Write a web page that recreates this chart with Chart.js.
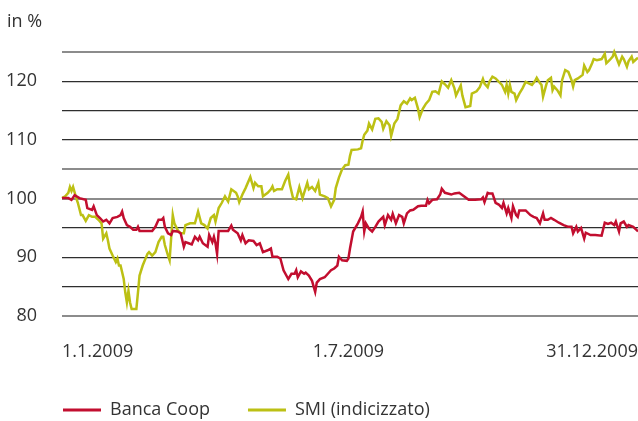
<!DOCTYPE html>
<html>
<head>
<meta charset="utf-8">
<script src="https://cdn.jsdelivr.net/npm/chart.js@4.4.1/dist/chart.umd.min.js"></script>
<style>
  html, body { margin: 0; padding: 0; background: #fff; }
  #wrap { width: 638px; height: 421px; }
</style>
</head>
<body>
<div id="wrap"><canvas id="chart" width="638" height="421"></canvas></div>
<script>
// Tage ab 1.1.2009 (0 = 1.1., 364 = 31.12.)
const tickDays = [0, 181, 364];
const tickLabels = ["1.1.2009", "1.7.2009", "31.12.2009"];

// Banca Coop
const coopDays = [0, 4, 6, 8, 11, 15, 16, 19, 20, 22, 24, 26, 28, 30, 32, 35, 37, 38, 39, 41, 43, 45, 47, 48, 49, 53, 57, 59, 61, 63, 64, 65, 67, 69, 70, 73, 75, 77, 78, 80, 82, 84, 86, 87, 89, 92, 93, 95, 96, 97, 98, 99, 102, 105, 107, 108, 111, 113, 114, 116, 118, 121, 123, 125, 127, 130, 132, 133, 136, 138, 140, 143, 145, 147, 148, 149, 151, 153, 154, 156, 158, 160, 161, 163, 166, 169, 170, 172, 174, 175, 177, 180, 181, 182, 184, 187, 189, 190, 191, 192, 194, 196, 198, 200, 203, 204, 206, 208, 209, 211, 213, 215, 216, 218, 220, 222, 225, 227, 230, 231, 232, 234, 237, 239, 240, 242, 246, 248, 251, 254, 257, 261, 265, 266, 267, 269, 270, 272, 274, 276, 278, 279, 281, 282, 284, 285, 287, 288, 289, 293, 296, 298, 300, 302, 304, 305, 307, 309, 311, 314, 317, 320, 322, 323, 325, 326, 328, 330, 331, 334, 337, 341, 342, 343, 345, 347, 349, 350, 352, 353, 355, 357, 358, 361, 363, 364];
const coopValues = [100.1, 100.1, 99.8, 100.6, 100.1, 99.8, 98.4, 98.1, 98.7, 97.2, 96.7, 96.1, 96.4, 95.8, 96.7, 96.9, 97.2, 97.8, 96.7, 95.5, 95.2, 94.7, 94.7, 95.2, 94.5, 94.5, 94.5, 95.2, 96.4, 96.4, 96.7, 95.2, 94.1, 93.8, 94.5, 94.4, 94.1, 91.8, 92.6, 92.4, 92.2, 93.5, 92.9, 93.5, 92.4, 91.8, 93.8, 92.6, 93.5, 92.4, 90.6, 94.5, 94.5, 94.5, 95.4, 94.7, 94.1, 92.9, 93.8, 92.4, 92.9, 92.8, 92.1, 92.4, 90.9, 91.2, 91.5, 90.1, 90.1, 89.8, 87.8, 86.3, 87.2, 87.2, 87.8, 86.6, 87.6, 87.2, 87.4, 86.9, 86.0, 84.1, 85.7, 86.3, 86.6, 87.5, 87.8, 88.1, 88.6, 90.1, 89.5, 89.4, 89.8, 91.5, 94.4, 95.8, 96.9, 97.8, 94.4, 95.8, 94.9, 94.4, 95.2, 96.1, 96.9, 95.5, 97.2, 96.4, 97.4, 95.8, 97.2, 96.9, 95.8, 97.5, 98, 98.1, 98.7, 98.8, 98.8, 99.8, 99.2, 99.8, 99.9, 100.7, 101.7, 101, 100.7, 100.9, 101, 100.4, 99.8, 99.8, 99.9, 100.2, 99.4, 101, 100.9, 100.9, 99.3, 99, 98.4, 99.3, 97.5, 98.4, 96.7, 98.7, 97.2, 96.9, 98, 98, 97.2, 96.9, 96.7, 95.8, 97.5, 96.4, 96.4, 96.7, 96.4, 95.9, 95.5, 95.2, 95.2, 94.1, 95.2, 94.4, 95, 93.2, 94.2, 93.8, 93.8, 93.7, 94.8, 95.9, 95.7, 95.9, 95.5, 96.1, 94.4, 95.8, 96.1, 95.2, 95.5, 95.2, 94.7, 94.4];

// SMI (indicizzato)
const smiDays = [0, 2, 4, 5, 6, 7, 9, 10, 12, 13, 15, 17, 19, 21, 23, 25, 26, 28, 29, 30, 32, 34, 35, 36, 37, 39, 40, 41, 42, 43, 44, 47, 48, 49, 51, 54, 55, 57, 59, 61, 63, 64, 65, 67, 68, 70, 71, 73, 75, 77, 78, 81, 84, 86, 88, 90, 92, 94, 96, 97, 99, 101, 103, 105, 107, 110, 111, 112, 114, 116, 119, 121, 122, 124, 126, 127, 130, 132, 133, 134, 136, 139, 141, 143, 144, 146, 148, 150, 152, 153, 155, 156, 158, 160, 162, 163, 166, 168, 170, 172, 173, 175, 177, 179, 181, 182, 183, 187, 189, 190, 191, 193, 194, 196, 198, 200, 202, 203, 205, 207, 208, 210, 212, 214, 216, 218, 220, 221, 223, 225, 226, 228, 230, 232, 234, 236, 238, 240, 242, 244, 246, 248, 249, 252, 253, 255, 258, 259, 262, 264, 266, 267, 269, 270, 272, 274, 278, 280, 281, 282, 283, 284, 286, 287, 289, 291, 293, 297, 299, 300, 302, 303, 304, 306, 307, 309, 310, 311, 313, 315, 316, 318, 320, 322, 323, 324, 326, 329, 330, 332, 333, 335, 336, 338, 341, 343, 344, 346, 348, 349, 351, 352, 354, 355, 357, 358, 360, 361, 363, 364];
const smiValues = [100.1, 100.4, 101, 102, 101.3, 102, 100.1, 99.3, 97.2, 97.2, 96.2, 97.2, 96.9, 96.9, 96.4, 95.8, 93.2, 94.1, 92.9, 91.5, 90.3, 89.2, 89.8, 88.6, 88.6, 86.3, 84, 82.3, 84.3, 82.3, 81.2, 81.2, 84, 86.9, 88.6, 90.6, 90.9, 90.3, 90.9, 92.6, 93.5, 93.5, 92.1, 90.3, 89.5, 97.2, 95.8, 94.7, 94.1, 94.1, 95.5, 95.8, 95.8, 97.8, 95.8, 95.5, 94.9, 96.7, 97.2, 96.1, 98.4, 99.3, 100.4, 99.5, 101.6, 101, 100.4, 99.4, 100.7, 101.8, 103.7, 101.8, 102.7, 102.1, 102.1, 100.4, 101, 101.6, 102.1, 101.3, 101.6, 101.6, 103, 104.1, 102.4, 100.1, 99.9, 102, 100.1, 101, 102.7, 101.6, 102, 101.3, 102.7, 100.7, 100.4, 100.1, 98.7, 99.8, 101.8, 103.6, 105, 105.7, 105.8, 107.3, 108.3, 108.4, 108.6, 109.9, 110.9, 111.6, 112.8, 111.8, 113.6, 113.7, 113.1, 111.9, 113.2, 112.5, 110.7, 112.8, 113.6, 115.9, 116.6, 116.2, 117.1, 116.8, 117.2, 115.3, 113.9, 115.3, 116.2, 116.8, 118.2, 118.3, 117.9, 120, 119.5, 118.9, 120.2, 118.8, 117.6, 119.3, 117.6, 115.6, 115.8, 117.9, 118.3, 119, 120.4, 119.6, 119, 119.9, 120.8, 120.5, 119.4, 118.2, 119.4, 117.9, 119.4, 118.2, 117.9, 116.8, 117.9, 118.8, 119.9, 119.4, 120.1, 120.6, 119.7, 119.4, 117.4, 119.4, 120.2, 120.6, 118.5, 119.1, 118.5, 117.6, 120.2, 121.9, 121.6, 120.2, 119.1, 120.2, 120.5, 121.1, 122.7, 121.6, 121.9, 123.1, 123.8, 123.6, 123.8, 124.7, 123.1, 123.6, 124.2, 125, 123.6, 122.9, 124.2, 123.8, 122.5, 123.4, 124.2, 123.3, 123.8, 124];

const fontFamily = "'Open Sans', sans-serif";
const textColor = "#333";

// "in %" oben links, Legende nach rechts schieben
const extras = {
  id: "extras",
  afterLayout(chart) {
    chart.legend.left += 25;
  },
  afterDraw(chart) {
    const c = chart.ctx;
    c.save();
    c.font = "18px " + fontFamily;
    c.fillStyle = textColor;
    c.textAlign = "left";
    c.textBaseline = "alphabetic";
    c.fillText("in %", 7, 27);
    c.restore();
  }
};

function points(days, values) {
  return days.map((d, i) => ({ x: d, y: values[i] }));
}

new Chart(document.getElementById("chart"), {
  type: "line",
  data: {
    datasets: [
      {
        label: "Banca Coop",
        data: points(coopDays, coopValues),
        borderColor: "#c20e2f",
        backgroundColor: "#c20e2f",
        borderWidth: 2.5,
        pointRadius: 0,
        tension: 0
      },
      {
        label: "SMI (indicizzato)",
        data: points(smiDays, smiValues),
        borderColor: "#bcc014",
        backgroundColor: "#bcc014",
        borderWidth: 2.5,
        pointRadius: 0,
        tension: 0
      }
    ]
  },
  options: {
    responsive: false,
    animation: false,
    clip: false,
    layout: { padding: { left: 0, right: 0, top: 52, bottom: -8 } },
    scales: {
      x: {
        type: "linear",
        min: 0,
        max: 364,
        afterBuildTicks: (scale) => {
          scale.ticks = tickDays.map((d) => ({ value: d }));
        },
        afterFit: (scale) => {
          scale.height = 47;
          scale.paddingLeft = 0;
          scale.paddingRight = 0;
        },
        grid: { display: false, drawTicks: false },
        border: { display: false },
        ticks: {
          align: "inner",
          maxRotation: 0,
          padding: 25,
          color: textColor,
          font: { family: fontFamily, size: 18 },
          callback: (value) => tickLabels[tickDays.indexOf(value)]
        }
      },
      y: {
        min: 80,
        max: 125,
        afterFit: (scale) => { scale.width = 62; },
        grid: {
          drawTicks: false,
          color: (ctx) => ([125, 105, 100, 80].includes(ctx.tick.value) ? "#8c8c8c" : "#2e2e2e"),
          lineWidth: (ctx) => ([125, 105, 100, 80].includes(ctx.tick.value) ? 2 : 1.3)
        },
        border: { display: false },
        ticks: {
          stepSize: 5,
          padding: 25,
          color: textColor,
          font: { family: fontFamily, size: 18 },
          callback: (value) => (value % 10 === 0 && value < 125 ? String(value) : "")
        }
      }
    },
    plugins: {
      legend: {
        position: "bottom",
        align: "start",
        labels: {
          boxWidth: 38,
          boxHeight: 3,
          padding: 38,
          color: textColor,
          font: { family: fontFamily, size: 18 },
          generateLabels: (chart) => {
            const items = Chart.defaults.plugins.legend.labels.generateLabels(chart);
            items.forEach((it) => { it.lineWidth = 0; });
            return items;
          }
        }
      },
      tooltip: { enabled: false }
    }
  },
  plugins: [extras]
});
</script>
</body>
</html>
